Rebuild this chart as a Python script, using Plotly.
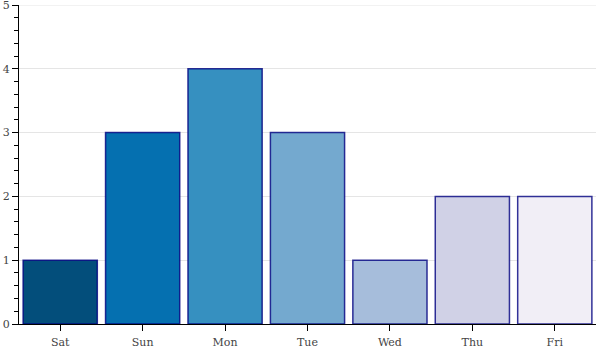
import plotly.graph_objects as go

days = ["Sat", "Sun", "Mon", "Tue", "Wed", "Thu", "Fri"]
counts = [1, 3, 4, 3, 1, 2, 2]
colors = ["#034e7b", "#0570b0", "#3690c0", "#74a9cf", "#a6bddb", "#d0d1e6", "#f1eef6"]

fig = go.Figure(
    go.Bar(
        x=days,
        y=counts,
        marker=dict(color=colors, line=dict(color="rgba(0,0,128,0.8)", width=1.5)),
        width=0.9,
    )
)

axis_font = dict(family="DejaVu Serif", size=11, color="#444444")

fig.update_layout(
    width=600,
    height=350,
    margin=dict(l=19, r=4, t=5, b=26),
    paper_bgcolor="white",
    plot_bgcolor="white",
    showlegend=False,
    font=axis_font,
)

fig.update_xaxes(
    type="category",
    automargin=False,
    showgrid=False,
    showline=True,
    linecolor="black",
    linewidth=1,
    ticks="outside",
    ticklen=6,
    tickcolor="black",
    tickfont=axis_font,
    ticklabelstandoff=2,
    range=[-0.5, 6.5],
)

fig.update_yaxes(
    range=[0, 5],
    dtick=1,
    automargin=False,
    showgrid=True,
    gridcolor="#e5e5e5",
    gridwidth=1,
    zeroline=False,
    showline=True,
    linecolor="black",
    linewidth=1,
    ticks="outside",
    ticklen=6,
    tickcolor="black",
    tickfont=axis_font,
    ticklabeloverflow="allow",
    minor=dict(dtick=0.2, ticks="outside", ticklen=4, tickcolor="black", showgrid=False),
)

# light rule along the top of the value range
fig.add_hline(y=5, line=dict(color="#e5e5e5", width=1), layer="below")

fig.write_html("out.html")
